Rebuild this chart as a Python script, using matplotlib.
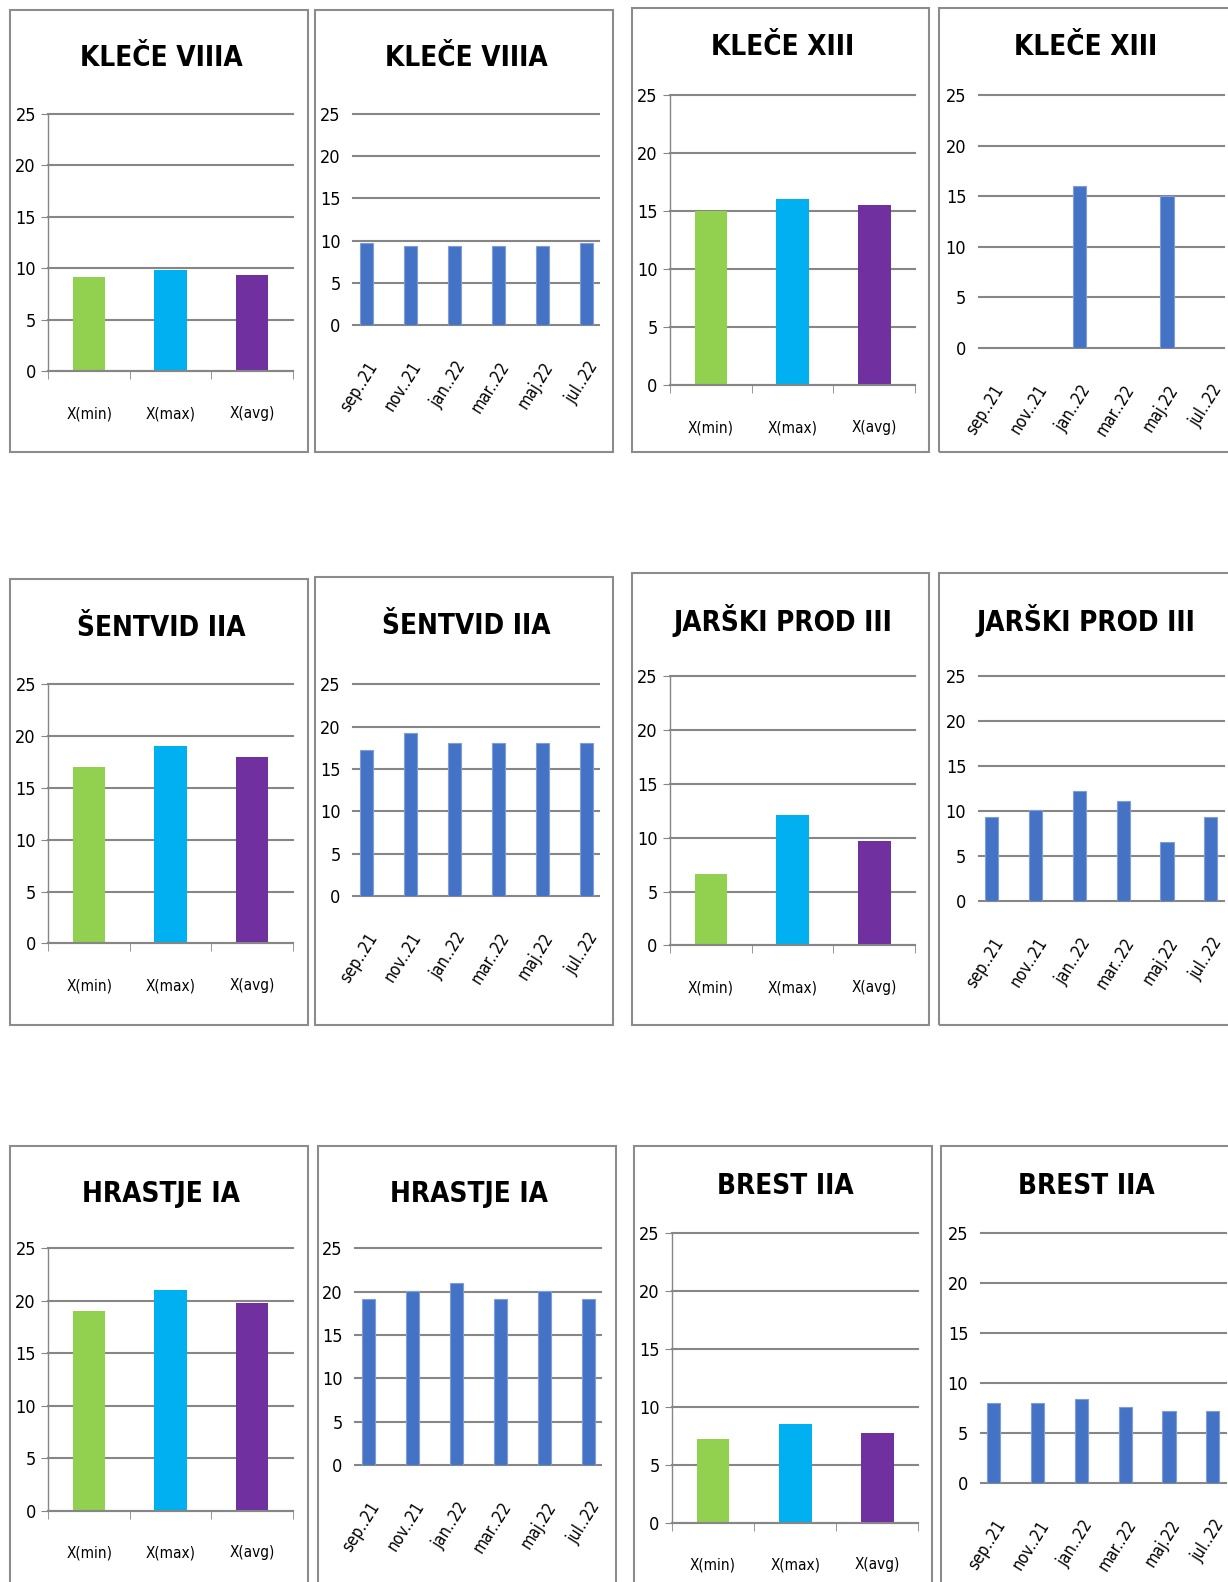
import numpy as np
import matplotlib
matplotlib.use("Agg")
import matplotlib.pyplot as plt
from matplotlib import font_manager
from matplotlib.patches import Rectangle

# --- data ---
stat_labels = ["X(min)", "X(max)", "X(avg)"]
month_labels = ["sep..21", "nov..21", "jan..22", "mar..22", "maj.22", "jul..22"]
stations = ["KLEČE VIIIA", "KLEČE XIII", "ŠENTVID IIA",
            "JARŠKI PROD III", "HRASTJE IA", "BREST IIA"]

klece8_stats = [9.2, 9.8, 9.4]
klece8_months = [9.7, 9.3, 9.3, 9.3, 9.3, 9.7]
klece13_stats = [15.0, 16.0, 15.5]
klece13_months = [np.nan, np.nan, 16.0, np.nan, 15.0, np.nan]
sentvid_stats = [17.0, 19.0, 18.0]
sentvid_months = [17.2, 19.2, 18.1, 18.1, 18.1, 18.1]
jarski_stats = [6.6, 12.1, 9.7]
jarski_months = [9.3, 10.1, 12.2, 11.1, 6.6, 9.3]
hrastje_stats = [19.0, 21.0, 19.8]
hrastje_months = [19.1, 20.1, 21.0, 19.1, 20.1, 19.1]
brest_stats = [7.2, 8.5, 7.7]
brest_months = [8.0, 8.0, 8.4, 7.6, 7.2, 7.2]

stats = [klece8_stats, klece13_stats, sentvid_stats, jarski_stats, hrastje_stats, brest_stats]
monthly = [klece8_months, klece13_months, sentvid_months, jarski_months, hrastje_months, brest_months]

stat_colors = ["#92D050", "#00B0F0", "#7030A0"]
month_color = "#4472C4"
grid_color = "#868686"
border_color = "#8C8C8C"

# the reference uses a squeezed Calibri; take a narrow face if one is installed
narrow = [f for f in font_manager.fontManager.ttflist
          if "Narrow" in f.name or "Condensed" in f.name or f.stretch == "condensed"]
STRETCH = "normal"
if narrow:
    FONT = narrow[0].name
    if narrow[0].stretch == "condensed":
        STRETCH = "condensed"
    big, mid, small, rot = 20, 13, 11, 12
else:
    FONT = "Liberation Sans"
    big, mid, small, rot = 18, 12, 10.5, 11
plt.rcParams["font.family"] = [FONT, "DejaVu Sans"]
plt.rcParams["font.stretch"] = STRETCH

W, H = 1228, 1582
S = W / 1217.0  # layout measured on the 1217 wide preview

fig = plt.figure(figsize=(W / 100, H / 100), dpi=100)


def fx(x):
    return x * S / W


def fy(y):
    return 1 - y * S / H


# panel boxes (x0, y0, x1, y1) and plot areas (left, top, right, bottom) in preview px
boxes = [
    [(10, 10, 305, 448), (312, 10, 608, 448), (626, 8, 921, 448), (931, 8, 1230, 448)],
    [(10, 574, 305, 1016), (312, 572, 608, 1016), (626, 568, 921, 1016), (931, 568, 1230, 1016)],
    [(10, 1136, 305, 1590), (315, 1136, 610, 1590), (628, 1136, 924, 1590), (933, 1136, 1230, 1590)],
]
plots = [
    [(48, 113, 290, 368), (350, 113, 594, 322), (664, 94, 907, 382), (970, 94, 1213, 345)],
    [(48, 678, 290, 935), (350, 678, 594, 888), (664, 670, 907, 937), (970, 670, 1213, 893)],
    [(48, 1237, 290, 1497), (352, 1237, 596, 1452), (666, 1222, 910, 1509), (972, 1222, 1215, 1470)],
]
title_y = [[57, 57, 47, 47], [622, 620, 615, 615], [1183, 1183, 1175, 1175]]


def style_common(ax):
    ax.set_ylim(0, 25)
    ax.set_yticks(range(0, 26, 5))
    ax.yaxis.grid(True, color=grid_color, linewidth=1.5)
    for line in ax.get_ygridlines():
        line.set_clip_on(False)
    ax.set_axisbelow(True)
    for side in ["top", "right"]:
        ax.spines[side].set_visible(False)
    ax.patch.set_alpha(0)
    for lab in ax.get_yticklabels():
        lab.set_fontsize(mid)


for r in range(3):
    for c in range(4):
        x0, y0, x1, y1 = boxes[r][c]
        fig.patches.append(Rectangle((fx(x0), fy(y1)), fx(x1) - fx(x0), fy(y0) - fy(y1),
                                     transform=fig.transFigure, fill=False,
                                     edgecolor=border_color, linewidth=1.5))
        idx = r * 2 + c // 2
        l, t, rr, b = plots[r][c]
        ax = fig.add_axes([fx(l), fy(b), fx(rr) - fx(l), fy(t) - fy(b)])
        fig.text(fx((x0 + min(x1, 1217)) / 2 + 2), fy(title_y[r][c]), stations[idx],
                 ha="center", va="center", fontsize=big, fontweight="bold")
        if c % 2 == 0:
            xs = np.arange(len(stat_labels))
            ax.bar(xs, stats[idx], width=0.4, color=stat_colors)
            ax.set_xlim(-0.5, 2.5)
            style_common(ax)
            ax.spines["left"].set_color(grid_color)
            ax.spines["bottom"].set_color(grid_color)
            ax.spines["left"].set_linewidth(1.0)
            ax.spines["bottom"].set_linewidth(1.5)
            ax.set_xticks(xs)
            ax.set_xticklabels(stat_labels, fontsize=small)
            ax.set_xticks([-0.5, 0.5, 1.5, 2.5], minor=True)
            ax.tick_params(axis="x", which="major", length=0, pad=25)
            ax.tick_params(axis="x", which="minor", length=6, color=grid_color, direction="out")
            ax.tick_params(axis="y", length=5, color=grid_color, pad=4)
        else:
            vals = np.array(monthly[idx], dtype=float)
            xs = np.arange(len(month_labels))
            ok = ~np.isnan(vals)
            ax.bar(xs[ok], vals[ok], width=0.3, color=month_color,
                   edgecolor="#7E9DD9", linewidth=0.8)
            ax.set_xlim(-0.3, 5.3)
            style_common(ax)
            ax.spines["left"].set_visible(False)
            ax.spines["bottom"].set_visible(False)
            ax.set_xticks(xs)
            ax.set_xticklabels(month_labels, fontsize=rot, rotation=58,
                               ha="right", rotation_mode="anchor")
            ax.tick_params(axis="x", length=0, pad=24)
            ax.tick_params(axis="y", length=0, pad=9)

fig.savefig("out.png", dpi=100)
